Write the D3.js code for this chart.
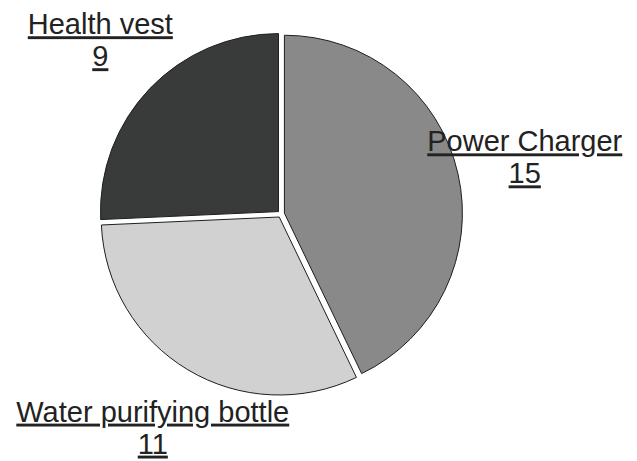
<!DOCTYPE html>
<meta charset="utf-8">
<title>pie</title>
<body>
<script src="https://cdn.jsdelivr.net/npm/d3@7"></script>
<style>
html, body {
    margin: 0;
    background: #fff;
}
text {
    font-family: "Liberation Sans", Arial, sans-serif;
    font-size: 29px;
    fill: #222;
    text-decoration: underline;
}
</style>
<script>
var width = 637,
    height = 461,
    r = 178,
    gap = 3.5;

var names = ["Power Charger", "Water purifying bottle", "Health vest"],
    values = [15, 11, 9],
    colors = ["#888988", "#d0d1d0", "#393b3b"];

var svg = d3.select("body").append("svg")
    .attr("width", width)
    .attr("height", height);

var g = svg.append("g")
    .attr("transform", "translate(" + [281, 214] + ")");

var pie = d3.pie().sort(null).value(function(d) { return d; });
var arcs = pie(values);

var arc = d3.arc()
    .innerRadius(0)
    .outerRadius(r);

function mid(d) { return (d.startAngle + d.endAngle) / 2; }

// each slice pushed out a little so white gaps show between them
g.selectAll("path")
    .data(arcs)
    .enter().append("path")
    .attr("d", arc)
    .attr("transform", function(d) {
        var a = mid(d);
        return "translate(" + [gap * Math.sin(a), -gap * Math.cos(a)] + ")";
    })
    .attr("fill", function(d, i) { return colors[i]; })
    .attr("stroke", "#1e1e1e")
    .attr("stroke-width", 1);

// labels sit out past the rim, two lines each
var labelArc = d3.arc().innerRadius(250).outerRadius(250);

var lab = g.selectAll("g.label")
    .data(arcs)
    .enter().append("g")
    .attr("class", "label")
    .attr("transform", function(d) {
        return "translate(" + labelArc.centroid(d) + ")";
    });

lab.append("text")
    .attr("text-anchor", "middle")
    .attr("y", -7)
    .text(function(d, i) { return names[i]; });

lab.append("text")
    .attr("text-anchor", "middle")
    .attr("y", 25)
    .text(function(d) { return d.value; });
</script>
